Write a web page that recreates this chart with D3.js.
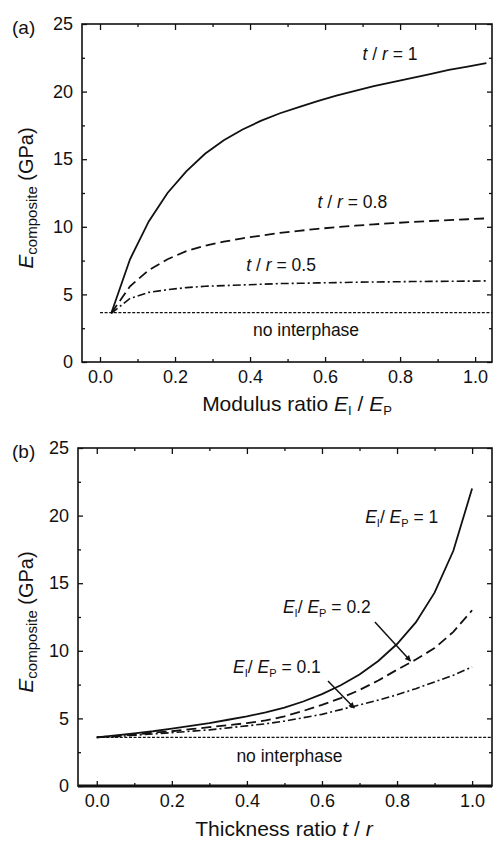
<!DOCTYPE html>
<html>
<head>
<meta charset="utf-8">
<script src="https://cdn.jsdelivr.net/npm/d3@7"></script>
<style>
  body { margin: 0; background: #fff; }
  svg { display: block; font-family: "Liberation Sans", Arial, sans-serif; }
</style>
</head>
<body>
<div id="chart"></div>
<script>
// ---- data ----
// panel (a): composite modulus vs modulus ratio EI/EP
const ratioX = [0.03, 0.08, 0.13, 0.18, 0.23, 0.28, 0.33, 0.38, 0.43, 0.48, 0.53,
                0.58, 0.63, 0.68, 0.73, 0.78, 0.83, 0.88, 0.93, 0.98, 1.03];
const tr1  = [3.6, 7.6, 10.4, 12.5, 14.1, 15.4, 16.4, 17.2, 17.85, 18.4, 18.85,
              19.3, 19.7, 20.05, 20.4, 20.7, 21.0, 21.3, 21.6, 21.85, 22.1];
const tr08 = [3.6, 5.6, 6.8, 7.6, 8.2, 8.6, 8.9, 9.15, 9.35, 9.55, 9.7,
              9.85, 9.97, 10.08, 10.18, 10.27, 10.35, 10.43, 10.5, 10.56, 10.62];
const tr05 = [3.6, 4.7, 5.15, 5.35, 5.5, 5.6, 5.65, 5.7, 5.75, 5.8, 5.82,
              5.85, 5.87, 5.9, 5.92, 5.93, 5.95, 5.96, 5.97, 5.98, 6.0];
const noInterA = [[0.0, 3.65], [1.045, 3.65]];

// panel (b): composite modulus vs thickness ratio t/r
const thickX = [0, 0.05, 0.1, 0.15, 0.2, 0.25, 0.3, 0.35, 0.4, 0.45, 0.5,
                0.55, 0.6, 0.65, 0.7, 0.75, 0.8, 0.85, 0.9, 0.95, 1.0];
const er1  = [3.6, 3.75, 3.9, 4.05, 4.25, 4.45, 4.65, 4.9, 5.15, 5.45, 5.8,
              6.25, 6.8, 7.45, 8.25, 9.25, 10.5, 12.1, 14.3, 17.4, 22.0];
const er02 = [3.6, 3.7, 3.8, 3.95, 4.05, 4.2, 4.35, 4.5, 4.65, 4.85, 5.15,
              5.55, 6.0, 6.5, 7.1, 7.8, 8.6, 9.35, 10.2, 11.4, 13.0];
const er01 = [3.6, 3.65, 3.75, 3.85, 3.95, 4.05, 4.15, 4.3, 4.45, 4.6, 4.8,
              5.05, 5.3, 5.65, 6.0, 6.35, 6.75, 7.2, 7.7, 8.2, 8.8];
const noInterB = [[0.0, 3.6], [1.053, 3.6]];

const xTicks = [0, 0.2, 0.4, 0.6, 0.8, 1.0];
const xMinor = [0.1, 0.3, 0.5, 0.7, 0.9];
const yTicks = [0, 5, 10, 15, 20, 25];
const yMinor = [2.5, 7.5, 12.5, 17.5, 22.5];

const width = 493, height = 841;
const svg = d3.select("#chart").append("svg")
  .attr("width", width).attr("height", height);

svg.append("defs").append("marker")
  .attr("id", "arrow")
  .attr("viewBox", "0 0 10 10")
  .attr("refX", 9).attr("refY", 5)
  .attr("markerWidth", 8).attr("markerHeight", 6)
  .attr("markerUnits", "userSpaceOnUse")
  .attr("orient", "auto")
  .append("path").attr("d", "M0,0 L10,5 L0,10 Z").attr("fill", "#111");

const styles = {
  solid:   { dash: null,        w: 1.8 },
  dashed:  { dash: "10,5",      w: 1.8 },
  dashdot: { dash: "8,3,2,3",   w: 1.6 },
  dotted:  { dash: "3,1.6",     w: 1.2 }
};

// rich text helper: parts = [[text, {italic, sub, size}], ...]
function richText(g, x, y, parts, size, anchor) {
  const t = g.append("text")
    .attr("x", x).attr("y", y)
    .attr("font-size", size)
    .attr("fill", "#111")
    .attr("text-anchor", anchor || "start");
  let shifted = 0;
  parts.forEach(([s, o = {}]) => {
    const sp = t.append("tspan").text(s);
    if (o.italic) sp.attr("font-style", "italic");
    if (o.size) sp.attr("font-size", o.size);
    const want = o.sub ? 4 : 0;
    if (want !== shifted) { sp.attr("dy", want - shifted); shifted = want; }
  });
  return t;
}

function panel(cfg) {
  const x = d3.scaleLinear().domain(cfg.xDomain).range([cfg.left, cfg.right]);
  const y = d3.scaleLinear().domain([0, 25]).range([cfg.bottom, cfg.top]);
  const g = svg.append("g");

  // ticks (inward)
  const addAxis = (axis, tr) => {
    const a = g.append("g").attr("transform", tr).call(axis);
    a.select(".domain").remove();
    a.selectAll("line").attr("stroke", "#111").attr("stroke-width", 1.3);
    a.selectAll("text").attr("font-size", 18).attr("fill", "#111")
      .attr("font-family", "Liberation Sans, Arial, sans-serif");
    return a;
  };
  addAxis(d3.axisBottom(x).tickValues(xTicks).tickSize(-5).tickPadding(8)
    .tickFormat(d3.format(".1f")), `translate(0,${cfg.bottom})`);
  addAxis(d3.axisBottom(x).tickValues(xMinor).tickSize(-3).tickFormat(""),
    `translate(0,${cfg.bottom})`);
  addAxis(d3.axisTop(x).tickValues(xTicks).tickSize(-6).tickFormat(""),
    `translate(0,${cfg.top})`);
  addAxis(d3.axisTop(x).tickValues(xMinor).tickSize(-3).tickFormat(""),
    `translate(0,${cfg.top})`);
  addAxis(d3.axisLeft(y).tickValues(yTicks).tickSize(-5).tickPadding(9),
    `translate(${cfg.left},0)`);
  addAxis(d3.axisLeft(y).tickValues(yMinor).tickSize(-3).tickFormat(""),
    `translate(${cfg.left},0)`);
  addAxis(d3.axisRight(y).tickValues(yTicks).tickSize(-5).tickFormat(""),
    `translate(${cfg.right},0)`);
  addAxis(d3.axisRight(y).tickValues(yMinor).tickSize(-3).tickFormat(""),
    `translate(${cfg.right},0)`);

  // frame
  g.append("rect")
    .attr("x", cfg.left).attr("y", cfg.top)
    .attr("width", cfg.right - cfg.left).attr("height", cfg.bottom - cfg.top)
    .attr("fill", "none").attr("stroke", "#111").attr("stroke-width", 1.6);
  if (cfg.heavyBottom) {
    g.append("line")
      .attr("x1", cfg.left).attr("x2", cfg.right)
      .attr("y1", cfg.bottom).attr("y2", cfg.bottom)
      .attr("stroke", "#111").attr("stroke-width", 3);
  }

  // curves
  const line = d3.line().x(d => x(d[0])).y(d => y(d[1]));
  cfg.series.forEach(s => {
    const st = styles[s.style];
    g.append("path")
      .datum(s.points)
      .attr("fill", "none")
      .attr("stroke", "#111")
      .attr("stroke-width", st.w)
      .attr("stroke-dasharray", st.dash)
      .attr("d", line);
  });

  // arrows
  (cfg.arrows || []).forEach(a => {
    g.append("line")
      .attr("x1", x(a[0][0])).attr("y1", y(a[0][1]))
      .attr("x2", x(a[1][0])).attr("y2", y(a[1][1]))
      .attr("stroke", "#111").attr("stroke-width", 1.5)
      .attr("marker-end", "url(#arrow)");
  });

  // curve labels
  cfg.labels.forEach(l => richText(g, x(l.at[0]), y(l.at[1]), l.parts, 17.5));

  // panel tag
  g.append("text").attr("x", 12).attr("y", cfg.top + 10)
    .attr("font-size", 19).attr("fill", "#111").text(cfg.tag);

  // y title
  const yt = g.append("g")
    .attr("transform", `translate(33,${(cfg.top + cfg.bottom) / 2 + 5}) rotate(-90)`);
  richText(yt, 0, 0, [["E", { italic: true, size: 21 }], ["composite", { sub: true, size: 15 }],
    ["  (GPa)", { size: 20 }]], 20, "middle");

  // x title
  richText(g, cfg.xTitle.x, cfg.xTitle.y, cfg.xTitle.parts, 21, "middle");
}

const zipXY = (xs, ys) => xs.map((v, i) => [v, ys[i]]);
const tr = [["t", { italic: true }], [" / "], ["r", { italic: true }], [" = "]];
const er = [["E", { italic: true }], ["I", { sub: true, size: 11 }], ["/ "],
            ["E", { italic: true }], ["P", { sub: true, size: 11 }], [" = "]];

panel({
  tag: "(a)",
  left: 82, right: 492, top: 24, bottom: 362,
  xDomain: [-0.048, 1.045],
  series: [
    { style: "dotted",  points: noInterA },
    { style: "solid",   points: zipXY(ratioX, tr1) },
    { style: "dashed",  points: zipXY(ratioX, tr08) },
    { style: "dashdot", points: zipXY(ratioX, tr05) }
  ],
  labels: [
    { at: [0.70, 22.35], parts: [...tr, ["1"]] },
    { at: [0.58, 11.4],  parts: [...tr, ["0.8"]] },
    { at: [0.39, 6.73],  parts: [...tr, ["0.5"]] },
    { at: [0.408, 1.92], parts: [["no interphase"]] }
  ],
  xTitle: { x: 297, y: 411, parts: [["Modulus ratio "], ["E", { italic: true }],
    ["I", { sub: true, size: 13 }], [" / "], ["E", { italic: true }], ["P", { sub: true, size: 13 }]] }
});

panel({
  tag: "(b)",
  left: 78, right: 492, top: 448, bottom: 786,
  xDomain: [-0.05, 1.053],
  heavyBottom: true,
  series: [
    { style: "dotted",  points: noInterB },
    { style: "solid",   points: zipXY(thickX, er1) },
    { style: "dashed",  points: zipXY(thickX, er02) },
    { style: "dashdot", points: zipXY(thickX, er01) }
  ],
  arrows: [
    [[0.741, 12.13], [0.836, 9.25]],
    [[0.616, 7.77], [0.686, 5.77]]
  ],
  labels: [
    { at: [0.715, 19.45], parts: [...er, ["1"]] },
    { at: [0.496, 12.8],  parts: [...er, ["0.2"]] },
    { at: [0.363, 8.36],  parts: [...er, ["0.1"]] },
    { at: [0.372, 1.78],  parts: [["no interphase"]] }
  ],
  xTitle: { x: 284, y: 836, parts: [["Thickness ratio  "], ["t", { italic: true }],
    [" / "], ["r", { italic: true }]] }
});
</script>
</body>
</html>
